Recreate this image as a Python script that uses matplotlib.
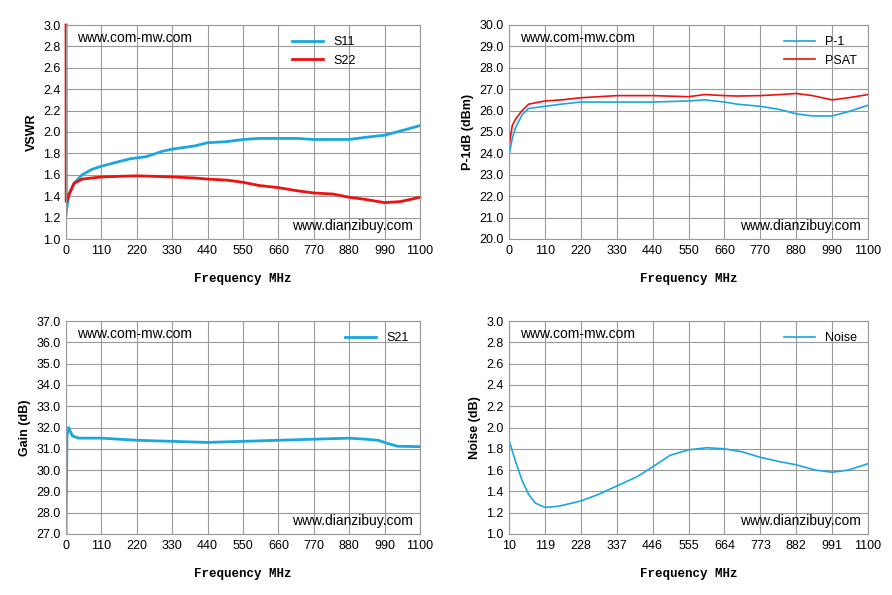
import matplotlib
matplotlib.use("Agg")
import matplotlib.pyplot as plt

plt.rcParams['font.family'] = ['Liberation Sans', 'DejaVu Sans']

BLUE = '#1aa7e0'
RED = '#ee1111'

f_s = [0, 3, 10, 25, 50, 80, 110, 160, 200, 250, 300, 330, 400, 440, 500, 550, 600, 660, 720, 770, 830, 880, 930, 990, 1040, 1100]
s11 = [1.22, 1.3, 1.42, 1.52, 1.6, 1.65, 1.68, 1.72, 1.75, 1.77, 1.82, 1.84, 1.87, 1.9, 1.91, 1.93, 1.94, 1.94, 1.94, 1.93, 1.93, 1.93, 1.95, 1.97, 2.01, 2.06]
f_s22 = [0, 0.5, 3, 10, 25, 50, 80, 110, 160, 220, 280, 330, 400, 440, 500, 550, 600, 660, 720, 770, 830, 880, 930, 990, 1040, 1100]
s22 = [3.0, 1.35, 1.36, 1.42, 1.52, 1.56, 1.57, 1.58, 1.585, 1.59, 1.585, 1.58, 1.57, 1.56, 1.55, 1.53, 1.5, 1.48, 1.45, 1.43, 1.42, 1.39, 1.37, 1.34, 1.35, 1.39]

f_p = [0, 10, 20, 40, 60, 110, 160, 220, 330, 440, 550, 600, 660, 700, 770, 830, 880, 930, 990, 1040, 1100]
p1 = [23.9, 24.7, 25.2, 25.8, 26.1, 26.2, 26.3, 26.4, 26.4, 26.4, 26.45, 26.5, 26.4, 26.3, 26.2, 26.05, 25.85, 25.75, 25.75, 25.95, 26.25]
psat = [24.3, 25.3, 25.6, 26.0, 26.3, 26.45, 26.5, 26.6, 26.7, 26.7, 26.65, 26.75, 26.7, 26.68, 26.7, 26.75, 26.8, 26.7, 26.5, 26.6, 26.75]

f_g = [0, 3, 8, 20, 40, 110, 220, 330, 440, 550, 660, 770, 880, 930, 970, 1000, 1030, 1100]
gain = [27.0, 31.6, 32.0, 31.6, 31.5, 31.5, 31.4, 31.35, 31.3, 31.35, 31.4, 31.45, 31.5, 31.45, 31.4, 31.25, 31.12, 31.1]

f_n = [10, 30, 50, 70, 90, 119, 160, 228, 280, 337, 400, 446, 500, 555, 610, 664, 720, 773, 830, 882, 940, 991, 1040, 1100]
noise = [1.88, 1.68, 1.5, 1.37, 1.29, 1.25, 1.26, 1.31, 1.37, 1.45, 1.54, 1.63, 1.74, 1.79, 1.81, 1.8, 1.77, 1.72, 1.68, 1.65, 1.6, 1.58, 1.6, 1.66]

xt = list(range(0, 1101, 110))
xt_n = [10, 119, 228, 337, 446, 555, 664, 773, 882, 991, 1100]

fig = plt.figure(figsize=(8.92, 5.95), dpi=100)
W, H = 892, 595
def mk(x0, y0, x1, y1):
    return fig.add_axes([x0 / W, 1 - y1 / H, (x1 - x0) / W, (y1 - y0) / H])

axes = [mk(66, 25, 420, 239), mk(509, 25, 868, 239), mk(66, 321, 420, 534), mk(509, 321, 868, 534)]

def style(ax, xticks, xlim, yticks, ylim, ylabel):
    ax.set_xlim(*xlim); ax.set_ylim(*ylim)
    ax.set_xticks(xticks); ax.set_yticks(yticks)
    ax.set_yticklabels([f"{v:.1f}" for v in yticks])
    ax.grid(True, color='#9a9a9a', lw=0.8)
    ax.set_axisbelow(True)
    for s in ax.spines.values():
        s.set_color('#9a9a9a')
    ax.tick_params(labelsize=9, length=0, pad=4)
    ax.set_ylabel(ylabel, fontsize=9, fontweight='bold')
    ax.set_xlabel('Frequency MHz', fontsize=9, fontweight='bold', family='Liberation Mono', labelpad=12)
    ax.text(0.03, 0.97, 'www.com-mw.com', transform=ax.transAxes, fontsize=10, va='top')
    ax.text(0.98, 0.03, 'www.dianzibuy.com', transform=ax.transAxes, fontsize=10, va='bottom', ha='right')

ax = axes[0]
ax.plot(f_s, s11, color=BLUE, lw=2, label='S11')
ax.plot(f_s22, s22, color=RED, lw=2, label='S22', clip_on=False)
style(ax, xt, (0, 1100), [round(1.0 + 0.2 * i, 1) for i in range(11)], (1.0, 3.0), 'VSWR')
ax.legend(loc='upper right', frameon=False, fontsize=9, handlelength=2.5, bbox_to_anchor=(0.85, 1.0))

ax = axes[1]
ax.plot(f_p, p1, color=BLUE, lw=1.2, label='P-1')
ax.plot(f_p, psat, color=RED, lw=1.2, label='PSAT')
style(ax, xt, (0, 1100), [20.0 + i for i in range(11)], (20, 30), 'P-1dB (dBm)')
ax.legend(loc='upper right', frameon=False, fontsize=9, handlelength=2.5)

ax = axes[2]
ax.plot(f_g, gain, color=BLUE, lw=2, label='S21')
style(ax, xt, (0, 1100), [27.0 + i for i in range(11)], (27, 37), 'Gain (dB)')
ax.legend(loc='upper right', frameon=False, fontsize=9, handlelength=2.5)

ax = axes[3]
ax.plot(f_n, noise, color=BLUE, lw=1.2, label='Noise')
style(ax, xt_n, (10, 1100), [round(1.0 + 0.2 * i, 1) for i in range(11)], (1.0, 3.0), 'Noise (dB)')
ax.legend(loc='upper right', frameon=False, fontsize=9, handlelength=2.5)

fig.savefig('out.png', dpi=100)
